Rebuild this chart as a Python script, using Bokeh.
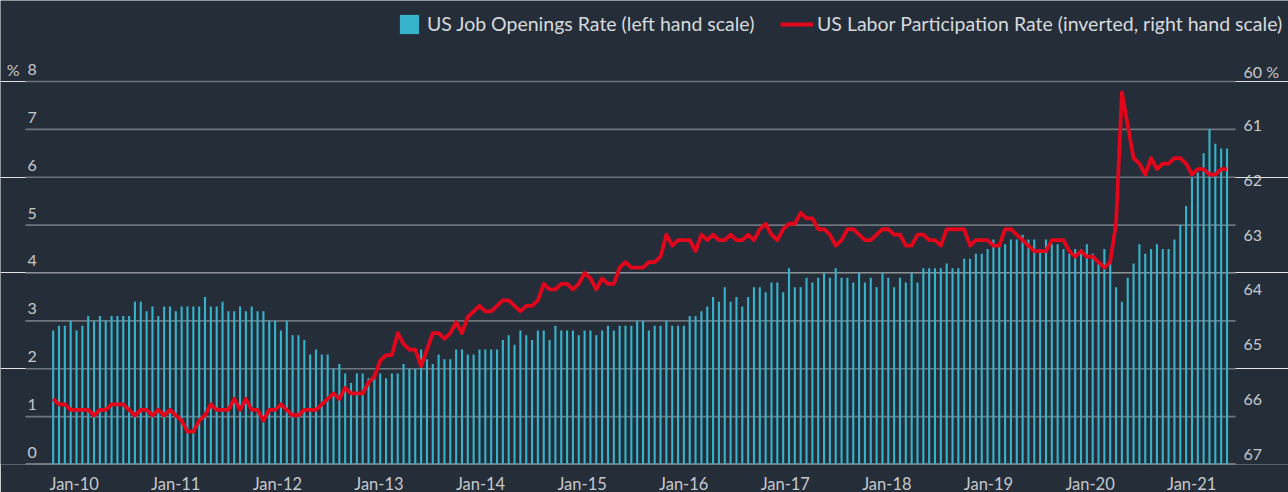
from bokeh.plotting import figure
from bokeh.models import Range1d, FixedTicker, Legend, LegendItem
from bokeh.core.properties import value
from bokeh.embed import file_html
from bokeh.resources import INLINE

# ---- data (monthly) ----
job_openings = [
    2.8, 2.9, 2.9, 3.0, 2.8, 2.9, 3.1, 3.0, 3.1, 3.0,
    3.1, 3.1, 3.1, 3.1, 3.4, 3.4, 3.2, 3.3, 3.1, 3.3,
    3.3, 3.2, 3.3, 3.3, 3.3, 3.3, 3.5, 3.3, 3.3, 3.4,
    3.2, 3.2, 3.3, 3.2, 3.3, 3.2, 3.2, 3.0, 3.0, 2.8,
    3.0, 2.7, 2.7, 2.6, 2.3, 2.4, 2.3, 2.3, 2.0, 2.1,
    1.9, 1.7, 1.9, 1.9, 1.8, 1.9, 1.9, 1.8, 1.9, 1.9,
    2.1, 2.0, 2.0, 2.4, 2.2, 2.1, 2.3, 2.2, 2.2, 2.4,
    2.4, 2.3, 2.3, 2.4, 2.4, 2.4, 2.4, 2.6, 2.7, 2.5,
    2.8, 2.7, 2.6, 2.8, 2.8, 2.6, 2.9, 2.8, 2.8, 2.8,
    2.7, 2.8, 2.8, 2.7, 2.8, 2.9, 2.8, 2.9, 2.9, 2.9,
    3.0, 3.0, 2.8, 2.9, 2.9, 3.0, 2.9, 2.9, 2.9, 3.1,
    3.1, 3.2, 3.3, 3.5, 3.4, 3.7, 3.4, 3.5, 3.3, 3.5,
    3.7, 3.7, 3.6, 3.8, 3.8, 3.6, 4.1, 3.7, 3.7, 3.9,
    3.8, 3.9, 4.0, 3.9, 4.1, 3.9, 3.9, 3.8, 4.0, 3.8,
    3.9, 3.7, 4.0, 3.9, 3.7, 3.9, 3.8, 4.0, 3.8, 4.1,
    4.1, 4.1, 4.1, 4.2, 4.1, 4.1, 4.3, 4.3, 4.4, 4.4,
    4.5, 4.7, 4.6, 4.6, 4.7, 4.7, 4.8, 4.7, 4.7, 4.5,
    4.7, 4.6, 4.6, 4.5, 4.4, 4.5, 4.5, 4.6, 4.4, 4.2,
    4.5, 4.2, 3.7, 3.4, 3.9, 4.2, 4.6, 4.4, 4.5, 4.6,
    4.5, 4.5, 4.7, 5.0, 5.4, 6.0, 6.1, 6.5, 7.0, 6.7,
    6.6, 6.6,
]

participation = [
    65.8, 65.9, 65.9, 66.0, 66.0, 66.0, 66.0, 66.1, 66.0, 66.0,
    65.9, 65.9, 65.9, 66.0, 66.1, 66.0, 66.0, 66.1, 66.0, 66.1,
    66.0, 66.1, 66.2, 66.4, 66.4, 66.2, 66.1, 65.9, 66.0, 66.0,
    66.0, 65.8, 66.0, 65.8, 66.0, 66.0, 66.2, 66.0, 66.0, 65.9,
    66.0, 66.1, 66.1, 66.0, 66.0, 66.0, 65.9, 65.8, 65.7, 65.8,
    65.6, 65.7, 65.7, 65.7, 65.5, 65.4, 65.1, 65.0, 65.0, 64.6,
    64.8, 64.9, 64.9, 65.2, 64.9, 64.6, 64.6, 64.7, 64.6, 64.4,
    64.6, 64.3, 64.2, 64.1, 64.2, 64.2, 64.1, 64.0, 64.0, 64.1,
    64.2, 64.1, 64.1, 64.0, 63.7, 63.8, 63.8, 63.7, 63.7, 63.8,
    63.7, 63.5, 63.6, 63.8, 63.6, 63.7, 63.7, 63.4, 63.3, 63.4,
    63.4, 63.4, 63.3, 63.3, 63.2, 62.8, 63.0, 62.9, 62.9, 62.9,
    63.1, 62.8, 62.9, 62.8, 62.9, 62.9, 62.8, 62.9, 62.9, 62.8,
    62.9, 62.7, 62.6, 62.8, 62.9, 62.7, 62.6, 62.6, 62.4, 62.5,
    62.5, 62.7, 62.7, 62.8, 63.0, 62.9, 62.7, 62.7, 62.8, 62.9,
    62.9, 62.8, 62.7, 62.7, 62.8, 62.8, 63.0, 63.0, 62.8, 62.8,
    62.9, 62.9, 63.0, 62.7, 62.7, 62.7, 62.7, 63.0, 62.9, 62.9,
    62.9, 63.0, 63.0, 62.7, 62.7, 62.8, 62.9, 63.0, 63.1, 63.1,
    63.1, 62.9, 62.9, 62.9, 63.1, 63.2, 63.1, 63.2, 63.2, 63.3,
    63.4, 63.3, 62.6, 60.2, 60.8, 61.4, 61.5, 61.7, 61.4, 61.6,
    61.5, 61.5, 61.4, 61.4, 61.5, 61.7, 61.6, 61.6, 61.7, 61.7,
    61.6, 61.6,
]

month_index = list(range(len(job_openings)))

x_tick_labels = ["Jan-10", "Jan-11", "Jan-12", "Jan-13", "Jan-14", "Jan-15",
                 "Jan-16", "Jan-17", "Jan-18", "Jan-19", "Jan-20", "Jan-21"]
left_ticks = [0, 1, 2, 3, 4, 5, 6, 7, 8]
right_ticks = [60, 61, 62, 63, 64, 65, 66, 67]
right_labels = ["60  %"] + [str(t) for t in right_ticks[1:]]

# ---- styling ----
BG = "#252e38"
TEAL = "#37b2cb"
RED = "#e3051b"
GRID = "#6e757d"
AXIS = "#8b9197"
LABEL = "#c5c9cd"
LEGTXT = "#d6dade"
FONT = "Lato"

# x label positions along the month index (evenly spaced, as in the reference)
tick_pos = [round(3.6 + 17.395 * k, 3) for k in range(len(x_tick_labels))]

# horizontal extent of the plotting area (month-index units)
grid_x0, grid_x1 = -4.738, 202.46

p = figure(frame_width=1288, frame_height=464,
           min_border_left=0, min_border_right=0, min_border_top=0, min_border_bottom=28,
           x_range=Range1d(-9.019, 211.53), y_range=Range1d(0, 9.6919),
           output_backend="svg", toolbar_location=None, y_axis_location=None,
           background_fill_color=BG, border_fill_color=BG, outline_line_color=None)

p.extra_y_ranges = {"r": Range1d(67, 58.5196), "rlab": Range1d(67.188, 58.7121)}
p.xgrid.visible = False

# gridlines of the left scale and the base line
n_grid = len(left_ticks) - 1
p.segment(x0=[grid_x0] * n_grid, x1=[grid_x1] * n_grid, y0=left_ticks[1:], y1=left_ticks[1:],
          line_color=GRID, line_width=1.6)
p.segment(x0=[grid_x0], x1=[grid_x1], y0=[0], y1=[0], line_color=AXIS, line_width=2.5)

bars = p.vbar(x=month_index, top=job_openings, bottom=0, width=0.36,
              fill_color=TEAL, line_color=None)
ln = p.line(month_index, participation, y_range_name="r",
            line_color=RED, line_width=3.8, line_join="round")

# x axis
xa = p.xaxis[0]
xa.ticker = FixedTicker(ticks=tick_pos)
xa.major_label_overrides = {t: lab for t, lab in zip(tick_pos, x_tick_labels)}
xa.axis_line_color = None
xa.major_tick_line_color = None
xa.minor_tick_line_color = None
xa.major_label_standoff = 3
xa.major_label_text_font = FONT
xa.major_label_text_font_size = "16.5px"
xa.major_label_text_color = LABEL

# left scale labels, above each gridline
p.text(x=[grid_x0] * len(left_ticks), y=left_ticks, text=[str(t) for t in left_ticks],
       text_font=value(FONT), text_font_size="16px", text_color=LABEL,
       text_align="left", text_baseline="alphabetic", x_offset=2, y_offset=-12)
p.text(x=[grid_x0], y=[left_ticks[-1]], text=["%"],
       text_font=value(FONT), text_font_size="16px", text_color=LABEL,
       text_align="right", text_baseline="alphabetic", x_offset=-6, y_offset=-12)

# right scale labels
p.text(x=[grid_x1] * len(right_ticks), y=right_ticks, text=right_labels, y_range_name="rlab",
       text_font=value(FONT), text_font_size="16px", text_color=LABEL,
       text_align="left", text_baseline="middle", x_offset=8)

common = dict(orientation="horizontal", glyph_height=24, padding=0, margin=0, spacing=0,
              border_line_color=None, background_fill_alpha=0,
              label_text_font=FONT, label_text_font_size="19.5px", label_text_color=LEGTXT)
leg1 = Legend(items=[LegendItem(label="US Job Openings Rate (left hand scale)", renderers=[bars])],
              location=(396.9, 428.5), glyph_width=24, label_standoff=6, **common)
leg2 = Legend(items=[LegendItem(label="US Labor Participation Rate (inverted, right hand scale)",
                                renderers=[ln])],
              location=(780, 428.5), glyph_width=33, label_standoff=4, **common)
p.add_layout(leg1)
p.add_layout(leg2)

open("out.html", "w").write(file_html(p, INLINE))
